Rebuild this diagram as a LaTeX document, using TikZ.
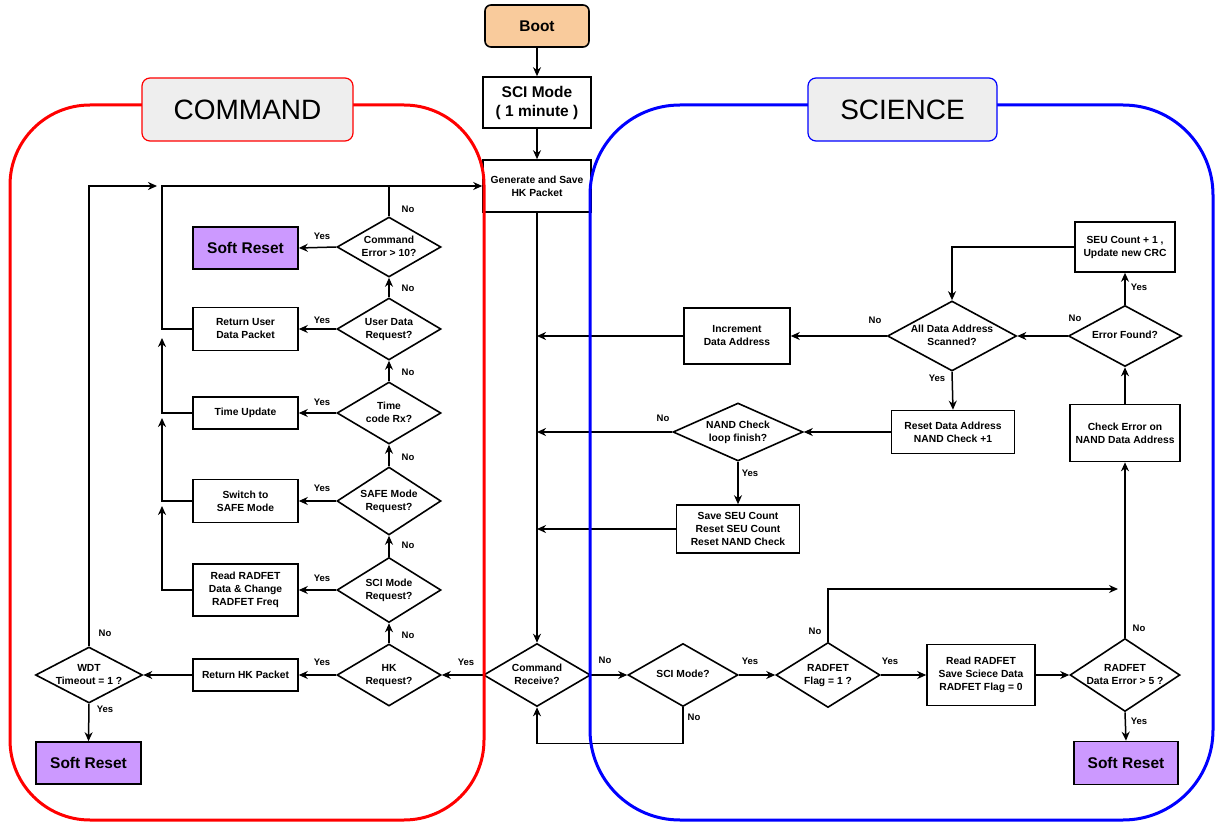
\documentclass[tikz,border=0pt]{standalone}
\usepackage{fontspec}
\setmainfont{Liberation Sans}
\usetikzlibrary{shapes.geometric,arrows.meta}
\definecolor{softp}{HTML}{CC99FF}
\definecolor{bootc}{HTML}{F9CB9C}
\definecolor{titleg}{HTML}{EEEEEE}
\newcommand{\dtx}[1]{\smash{\makebox[0pt]{\raisebox{-0.25em}{\begin{tabular}{@{}c@{}}#1\end{tabular}}}}}
\begin{document}
\begin{tikzpicture}[x=1pt,y=-1pt,
 box/.style={draw, line width=1.6pt, inner sep=0pt, align=center, minimum width=105, font=\bfseries\fontsize{10.3}{13}\selectfont},
 dia/.style={draw, diamond, line width=1.6pt, inner sep=0pt, minimum width=104, font=\bfseries\fontsize{10.3}{13}\selectfont},
 reset/.style={box, fill=softp, font=\bfseries\fontsize{15.5}{18}\selectfont},
 arr/.style={line width=1.5pt, -{Stealth[length=9pt,width=8pt]}},
 ln/.style={line width=1.5pt},
 lab/.style={font=\bfseries\fontsize{9.5}{11}\selectfont, inner sep=0pt},
 title/.style={draw, line width=1.2pt, fill=titleg, rounded corners=8pt, minimum height=63, font=\fontsize{28}{32}\selectfont},
]
\useasboundingbox (0,0) rectangle (1216,826);

% central column
\node[box, fill=bootc, rounded corners=6pt, minimum width=104, minimum height=42, font=\bfseries\fontsize{15.5}{18}\selectfont] (boot) at (537,26) {Boot};
\node[box, minimum width=108, minimum height=51, font=\bfseries\fontsize{15.5}{19}\selectfont] (sci) at (537,102.5) {SCI Mode\\( 1 minute )};
\node[box, minimum width=108, minimum height=52] (gen) at (537,186) {Generate and Save\\HK Packet};
\node[dia, minimum width=107, minimum height=63] (cr) at (537,675) {\dtx{Command\\Receive?}};

% command side
\node[dia, minimum height=60] (ce) at (389,247) {\dtx{Command\\Error > 10?}};
\node[dia, minimum height=62] (ud) at (389,329) {\dtx{User Data\\Request?}};
\node[dia, minimum height=62] (tcx) at (389,413) {\dtx{Time\\code Rx?}};
\node[dia, minimum height=68] (safe) at (389,501) {\dtx{SAFE Mode\\Request?}};
\node[dia, minimum height=65] (scr) at (389,590) {\dtx{SCI Mode\\Request?}};
\node[dia, minimum height=62] (hk) at (389,675) {\dtx{HK\\Request?}};
\node[dia, minimum width=107, minimum height=56] (wdt) at (89,675) {\dtx{WDT\\Timeout = 1 ?}};

\node[reset, minimum height=42] (sr1) at (245.5,248) {Soft Reset};
\node[box, minimum height=43] (rud) at (245.5,329) {Return User\\Data Packet};
\node[box, minimum height=32] (tu) at (245.5,413) {Time Update};
\node[box, minimum height=43] (sw) at (245.5,501) {Switch to\\SAFE Mode};
\node[box, minimum height=52] (rr) at (245.5,590) {Read RADFET\\Data \& Change\\RADFET Freq};
\node[box, minimum height=32] (rhk) at (245.5,675) {Return HK Packet};
\node[reset, minimum height=42] (sr2) at (88.5,763) {Soft Reset};

% science side
\node[dia, minimum width=110, minimum height=63] (sm) at (683,675) {\dtx{SCI Mode?}};
\node[dia, minimum width=104, minimum height=65] (rf) at (828,675) {\dtx{RADFET\\Flag = 1 ?}};
\node[box, minimum width=108, minimum height=61] (rd) at (981,675) {Read RADFET\\Save Sciece Data\\RADFET Flag = 0};
\node[dia, minimum width=110, minimum height=73] (re) at (1125,675) {\dtx{RADFET\\Data Error > 5 ?}};
\node[reset, minimum width=104, minimum height=43] (sr3) at (1126,763) {Soft Reset};
\node[box, minimum width=110, minimum height=57] (ce2) at (1125,433) {Check Error on\\NAND Data Address};
\node[dia, minimum width=113, minimum height=61] (ef) at (1125,336) {\dtx{Error Found?}};
\node[box, minimum width=100, minimum height=50] (seu) at (1125,247) {SEU Count + 1 ,\\Update new CRC};
\node[dia, minimum width=129, minimum height=70] (ad) at (952,336) {\dtx{All Data Address\\Scanned?}};
\node[box, minimum width=106, minimum height=56] (inc) at (737,336) {Increment\\Data Address};
\node[box, minimum width=123, minimum height=43] (rda) at (953,432) {Reset Data Address\\NAND Check +1};
\node[dia, minimum width=130, minimum height=58] (nc) at (738,432) {\dtx{NAND Check\\loop finish?}};
\node[box, minimum width=123, minimum height=48] (sseu) at (738,529) {Save SEU Count\\Reset SEU Count\\Reset NAND Check};

% connectors: central
\draw[arr] (boot) -- (sci);
\draw[arr] (sci) -- (gen);
\draw[arr] (gen.south) -- (cr.north);

% connectors: command
\draw[arr] (cr.west) -- (hk.east);
\draw[arr] (hk.north) -- (scr.south);
\draw[arr] (scr.north) -- (safe.south);
\draw[arr] (safe.north) -- (tcx.south);
\draw[arr] (tcx.north) -- (ud.south);
\draw[arr] (ud.north) -- (ce.south);
\draw[arr] (ce.west) -- (sr1.east);
\draw[arr] (ud.west) -- (rud.east);
\draw[arr] (tcx.west) -- (tu.east);
\draw[arr] (safe.west) -- (sw.east);
\draw[arr] (scr.west) -- (rr.east);
\draw[arr] (hk.west) -- (rhk.east);
\draw[arr] (rhk.west) -- (wdt.east);
\draw[arr] (wdt.south) -- (sr2.north);
\coordinate (tl) at (157,186);
\draw[arr] (wdt.north) |- (tl);
\coordinate (vx) at (162,186);
\draw[arr] (rud.west) -| (vx) -- (gen.west);
\draw[ln] (ce.north) -- (ce.north |- gen.west);
\coordinate (a1) at (162,338);
\coordinate (a2) at (162,418);
\coordinate (a3) at (162,506);
\draw[arr] (tu.west) -| (a1);
\draw[arr] (sw.west) -| (a2);
\draw[arr] (rr.west) -| (a3);

% connectors: science
\draw[arr] (cr.east) -- (sm.west);
\draw[arr] (sm.east) -- (rf.west);
\draw[arr] (rf.east) -- (rd.west);
\draw[arr] (rd.east) -- (re.west);
\draw[arr] (re.south) -- (sr3.north);
\draw[arr] (re.north) -- (ce2.south);
\coordinate (rfn) at (1118,589);
\draw[arr] (rf.north) |- (rfn);
\draw[arr] (sm.south) -- ++(0,36) -| (cr.south);
\draw[arr] (ce2.north) -- (ef.south);
\draw[arr] (ef.north) -- (seu.south);
\draw[arr] (seu.west) -| (ad.north);
\draw[arr] (ef.west) -- (ad.east);
\draw[arr] (ad.west) -- (inc.east);
\draw[arr] (inc.west) -- (inc.west -| gen.south);
\draw[arr] (ad.south) -- (rda.north);
\draw[arr] (rda.west) -- (nc.east);
\draw[arr] (nc.west) -- (nc.west -| gen.south);
\draw[arr] (nc.south) -- (sseu.north);
\draw[arr] (sseu.west) -- (sseu.west -| gen.south);

% labels
\node[lab] (l1) at (408,209) {No};
\node[lab] (l2) at (408,288) {No};
\node[lab] (l3) at (408,372) {No};
\node[lab] (l4) at (408,457) {No};
\node[lab] (l5) at (408,545) {No};
\node[lab] (l6) at (408,635) {No};
\node[lab] (y1) at (322,236) {Yes};
\node[lab] (y2) at (322,320) {Yes};
\node[lab] (y3) at (322,402) {Yes};
\node[lab] (y4) at (322,488) {Yes};
\node[lab] (y5) at (322,578) {Yes};
\node[lab] (y6) at (322,662) {Yes};
\node[lab] (y7) at (466,662) {Yes};
\node[lab] (l7) at (105,633) {No};
\node[lab] (y8) at (105,709) {Yes};
\node[lab] (l8) at (605,660) {No};
\node[lab] (y9) at (750,661) {Yes};
\node[lab] (l9) at (694,717) {No};
\node[lab] (y10) at (890,661) {Yes};
\node[lab] (l10) at (815,631) {No};
\node[lab] (l11) at (1139,628) {No};
\node[lab] (y11) at (1139,721) {Yes};
\node[lab] (y12) at (1139,287) {Yes};
\node[lab] (l12) at (1075,318) {No};
\node[lab] (l13) at (875,320) {No};
\node[lab] (y13) at (937,378) {Yes};
\node[lab] (l14) at (663,418) {No};
\node[lab] (y14) at (750,473) {Yes};

% containers
\draw[red, line width=3pt, rounded corners=80pt] (10,105) rectangle (484,820);
\draw[blue, line width=3pt, rounded corners=90pt] (590,105) rectangle (1213,820);
\node[title, draw=red, minimum width=211] (tc) at (247.5,109.5) {COMMAND};
\node[title, draw=blue, minimum width=189] (ts) at (902.5,109.5) {SCIENCE};
\end{tikzpicture}
\end{document}
